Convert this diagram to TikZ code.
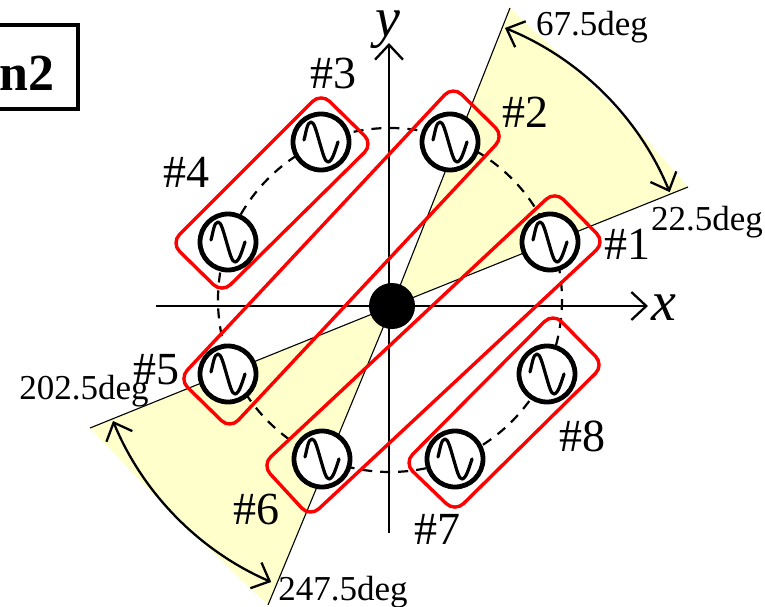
\documentclass[tikz,border=0pt]{standalone}
\usepackage{fontspec}
\setmainfont{Liberation Serif}
\usetikzlibrary{arrows.meta,calc}
\definecolor{wedgeyellow}{RGB}{255,255,204}
\tikzset{
  x=1pt,y=-1pt,
  wedge/.style={fill=wedgeyellow,draw=none},
  edgeline/.style={line width=1.1pt,black},
  axisline/.style={line width=2.3pt,black,-{Straight Barb[length=15pt,width=28pt,line width=2.3pt]}},
  sweep/.style={line width=2.3pt,black,{Straight Barb[length=15pt,width=28pt,line width=2.3pt]}-{Straight Barb[length=15pt,width=28pt,line width=2.3pt]}},
  group/.style={draw={rgb,255:red,255;green,0;blue,0},line width=3.4pt,rounded corners=12pt},
  src/.style={circle,draw,fill=white,line width=4.8pt,minimum size=56pt,inner sep=0pt},
  num/.style={font=\fontsize{46}{46}\selectfont,inner sep=0pt},
  deg/.style={font=\fontsize{35}{35}\selectfont,inner sep=0pt},
  axl/.style={font=\fontsize{56}{56}\selectfont\itshape,inner sep=0pt},
}
\newcommand{\wave}[1]{\draw[line width=3.2pt,line cap=round,line join=round] ($(#1)+(-17,-2)$) .. controls ($(#1)+(-15,-9)$) and ($(#1)+(-14,-20)$) .. ($(#1)+(-10,-20)$) .. controls ($(#1)+(-7,-20)$) and ($(#1)+(-5,-12)$) .. ($(#1)+(-1.5,0)$) .. controls ($(#1)+(2,12)$) and ($(#1)+(4,20)$) .. ($(#1)+(7,20)$) .. controls ($(#1)+(11,20)$) and ($(#1)+(14,9)$) .. ($(#1)+(17,0)$);}
\begin{document}
\begin{tikzpicture}
\useasboundingbox (0,0) rectangle (765,607);
\coordinate (o) at (392,306);
\coordinate (a) at (510,8);
\coordinate (b) at (688,187);
\coordinate (c) at (90,428);
\coordinate (d) at (268,605);
\fill[wedge] (o) -- (a) .. controls (572,66) and (634,122) .. (b) -- cycle;
\fill[wedge] (o) -- (c) .. controls (146,488) and (208,549) .. (d) -- cycle;
\draw[edgeline] (a) -- (o) -- (b);
\draw[edgeline] (c) -- (o) -- (d);
\draw[axisline] (156,306) -- (648,306);
\draw[axisline] (389,533) -- (389,43);
\draw[line width=2.2pt,dash pattern=on 10pt off 8pt] (390,300) circle (172);
\coordinate (s1) at (550,242);
\coordinate (s2) at (450,142);
\coordinate (s3) at (321,142);
\coordinate (s4) at (228,242);
\coordinate (s5) at (228,374);
\coordinate (s6) at (322,459);
\coordinate (s7) at (455,459);
\coordinate (s8) at (547,374);
\draw[group] (453,86) -- (504,136) -- (230,429) -- (179,379) -- cycle;
\draw[group] (555,191) -- (605,242) -- (310,517) -- (262,465) -- cycle;
\draw[group] (321,93) -- (373,144) -- (222,293) -- (171,243) -- cycle;
\draw[group] (553,313) -- (604,365) -- (455,512) -- (404,463) -- cycle;
\node[circle,fill=black,minimum size=46pt,inner sep=0pt] (hub) at (392,306) {};
\foreach \s in {s1,s2,s3,s4,s5,s6,s7,s8} {
  \node[src] (n\s) at (\s) {};
  \wave{\s}
}
\draw[sweep] (505,28) arc[start angle=-67.9,end angle=-22.3,radius=300];
\draw[sweep] (113,421) arc[start angle=-202.4,end angle=-246.6,radius=300];
\node[num] (l1) at (627,244) {\#1};
\node[num] (l2) at (525,112) {\#2};
\node[num] (l3) at (333,73) {\#3};
\node[num] (l4) at (186,172) {\#4};
\node[num] (l5) at (156,370) {\#5};
\node[num] (l6) at (256,509) {\#6};
\node[num] (l7) at (437,529) {\#7};
\node[num] (l8) at (582,436) {\#8};
\node[deg] (t1) at (592,27) {67.5deg};
\node[deg] (t2) at (707,222) {22.5deg};
\node[deg] (t3) at (84,391) {202.5deg};
\node[deg] (t4) at (343,592) {247.5deg};
\node[axl] (ax) at (664,308) {x};
\node[axl] (ay) at (388,30) {y};
\draw[line width=3.2pt] (-10,25) rectangle (78,109);
\node[font=\fontsize{52}{52}\selectfont\bfseries,inner sep=0pt,anchor=east] (tag) at (55,73) {n2};
\end{tikzpicture}
\end{document}
